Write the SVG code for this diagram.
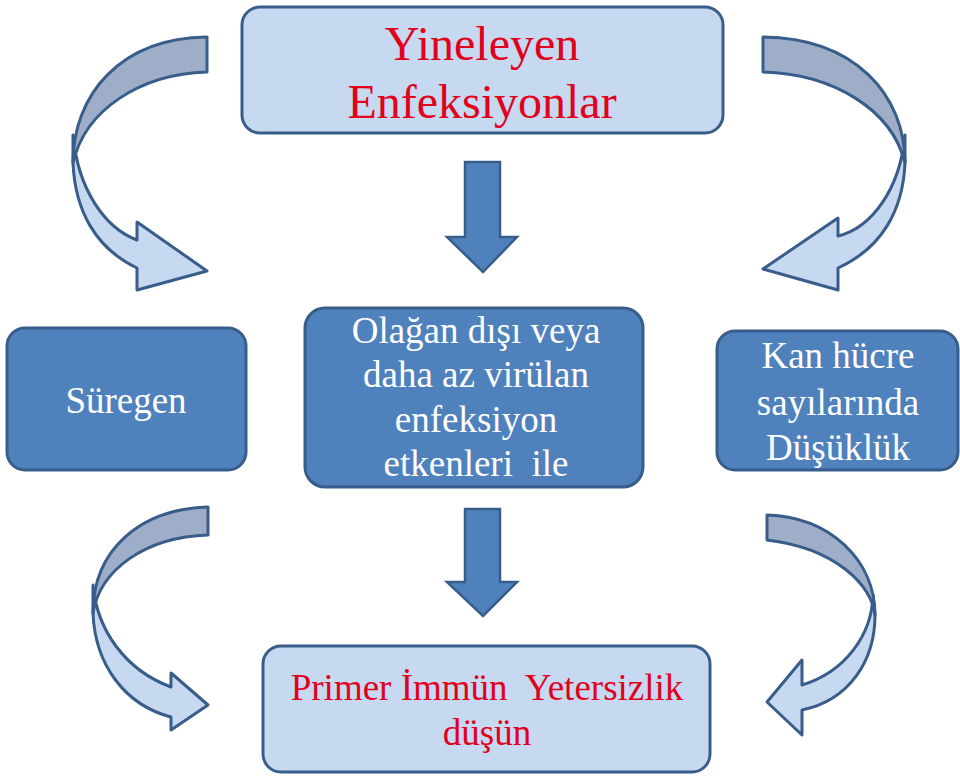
<svg xmlns="http://www.w3.org/2000/svg" width="960" height="779" viewBox="0 0 960 779">
<defs>
<style>
.box{stroke:#385d8a;stroke-width:3}
.lite{fill:#c6d9f1}
.dark{fill:#4f81bd}
.arr{stroke:#385d8a;stroke-width:3;stroke-linejoin:round}
.back{fill:#9eaec9}
.front{fill:#c6d9f1}
.down{fill:#4f81bd;stroke:#385d8a;stroke-width:2.5}
text{font-family:"Liberation Serif","Times New Roman",serif;text-anchor:middle}
.red{fill:#e3001b}
.wht{fill:#ffffff}
</style>
</defs>
<g id="node-top">
<rect class="box lite" x="242" y="7" width="481" height="126" rx="18"/>
<text class="red" x="482" y="60" font-size="48">Yineleyen</text>
<text class="red" x="482" y="118" font-size="48">Enfeksiyonlar</text>
</g>
<g id="node-suregen">
<rect class="box dark" x="7" y="328" width="239" height="142" rx="18"/>
<text class="wht" x="126" y="413" font-size="37">Süregen</text>
</g>
<g id="node-center">
<rect class="box dark" x="305" y="308" width="338" height="179" rx="20"/>
<text class="wht" x="476" y="343" font-size="37">Olağan dışı veya</text>
<text class="wht" x="476" y="387" font-size="37">daha az virülan</text>
<text class="wht" x="476" y="432" font-size="37">enfeksiyon</text>
<text class="wht" x="476" y="476" font-size="37" xml:space="preserve">etkenleri  ile</text>
</g>
<g id="node-right">
<rect class="box dark" x="717" y="331" width="241" height="139" rx="18"/>
<text class="wht" x="838" y="368" font-size="37">Kan hücre</text>
<text class="wht" x="838" y="415" font-size="37">sayılarında</text>
<text class="wht" x="838" y="460" font-size="37">Düşüklük</text>
</g>
<g id="node-bottom">
<rect class="box lite" x="263" y="646" width="447" height="126" rx="18"/>
<text class="red" x="487" y="700" font-size="37" xml:space="preserve">Primer İmmün  Yetersizlik</text>
<text class="red" x="487" y="745" font-size="37">düşün</text>
</g>
<g id="connectors">
<path class="down" d="M465,162 H500 V237 H517 L483,272 L447,237 H465 Z"/>
<path class="down" d="M465,509 H500 V582 H517 L483,616 L447,582 H465 Z"/>
<path class="arr front" d="M73,135 C78,190 105,228 137,240 L137,222 L207,271 L137,290 L137,268 C95,248 75,210 73,163 Z"/>
<path class="arr back" d="M207,37 C120,38 73,95 73,163 C85,110 140,74 207,72 Z"/>
<path class="arr front" d="M905,135 C900,190 871,228 838,236 L838,218 L763,269 L838,290 L838,268 C882,248 903,210 905,163 Z"/>
<path class="arr back" d="M763,37 C855,38 905,95 905,163 C892,110 834,74 763,72 Z"/>
<path class="arr front" d="M93,585 C97,630 125,670 171,687 L171,673 L208,705 L171,730 L171,717 C125,705 95,665 93,613 Z"/>
<path class="arr back" d="M208,507 C140,509 93,550 93,613 C100,570 145,537 208,535 Z"/>
<path class="arr front" d="M873,595 C872,635 845,672 802,685 L802,660 L767,702 L802,735 L802,710 C850,700 875,660 875,615 Z"/>
<path class="arr back" d="M767,515 C830,517 875,560 875,615 C872,585 835,548 767,540 Z"/>
</g>
</svg>
